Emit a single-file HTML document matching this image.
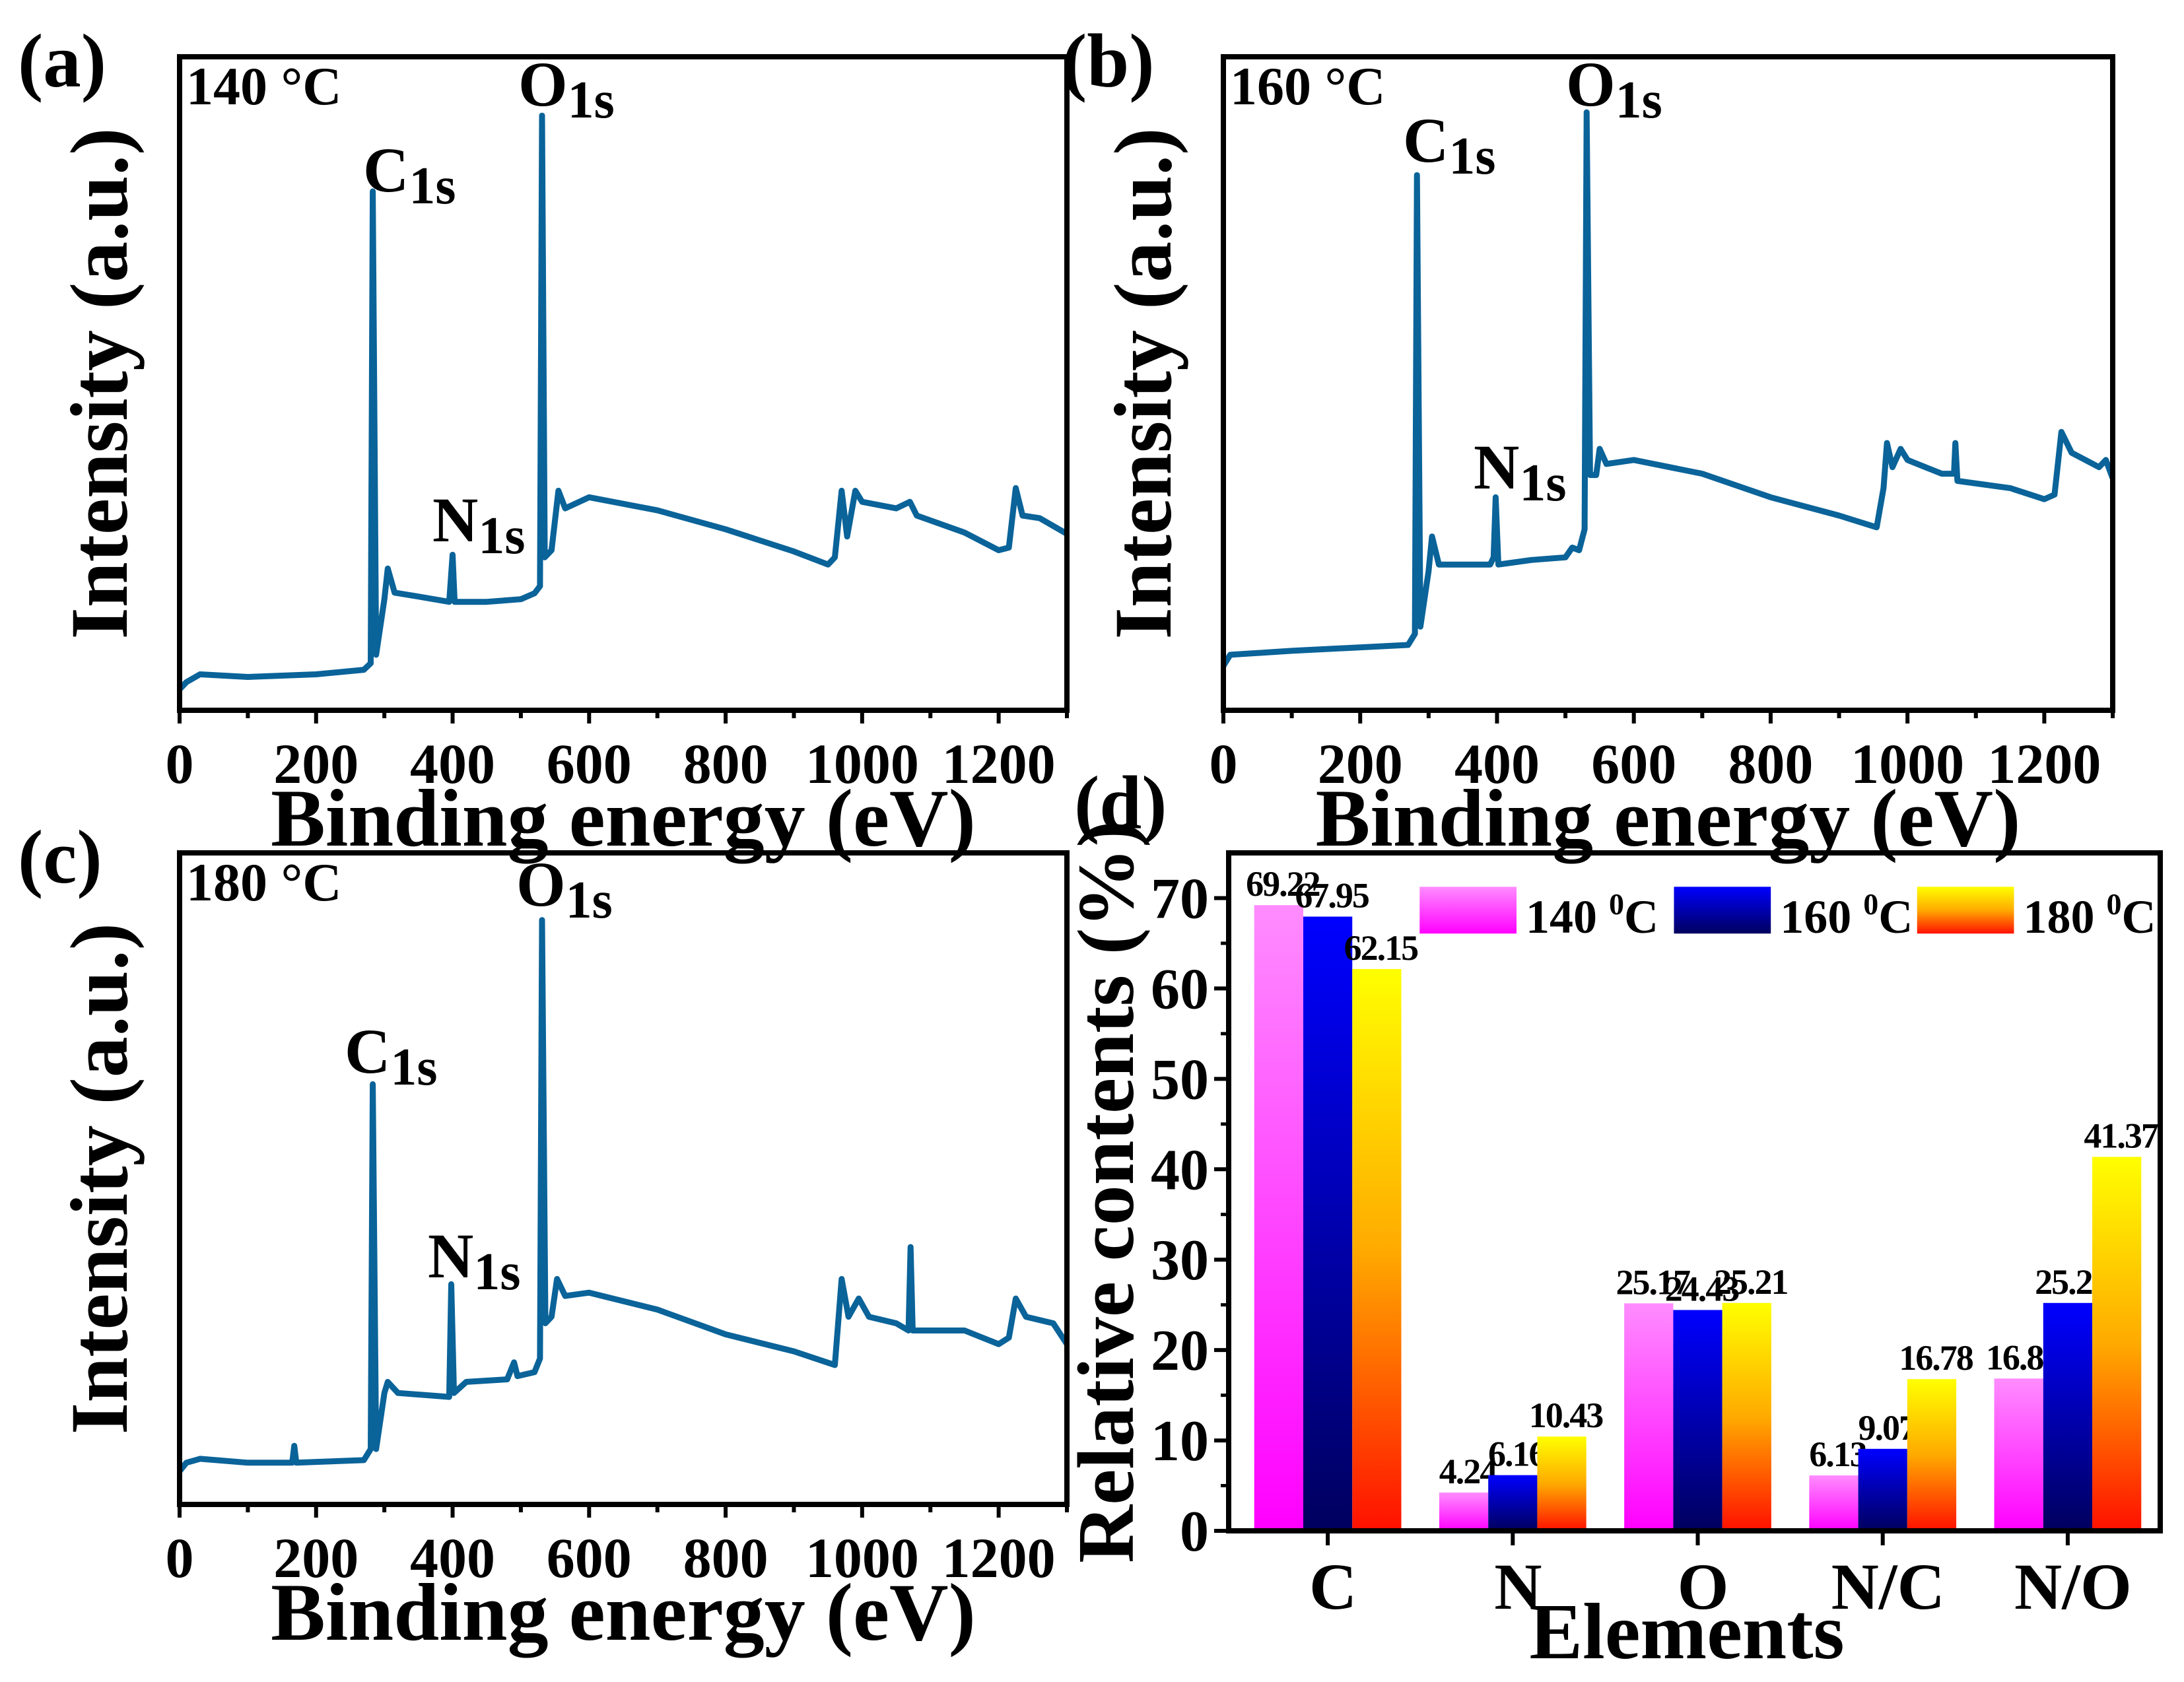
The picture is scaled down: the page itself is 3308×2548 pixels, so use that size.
<!DOCTYPE html>
<html><head><meta charset="utf-8"><style>
html,body{margin:0;padding:0;background:#fff}
svg{display:block}
text{font-family:"Liberation Serif",serif;font-weight:bold;fill:#000}
</style></head><body>
<svg id="fig" width="3308" height="2548" viewBox="0 0 3308 2548" xmlns="http://www.w3.org/2000/svg">
<defs>
<linearGradient id="g140" x1="0" y1="0" x2="0" y2="1"><stop offset="0" stop-color="#ff8cff"/><stop offset="1" stop-color="#ff00ff"/></linearGradient>
<linearGradient id="g160" x1="0" y1="0" x2="0" y2="1"><stop offset="0" stop-color="#0000ff"/><stop offset="1" stop-color="#00005e"/></linearGradient>
<linearGradient id="g180" x1="0" y1="0" x2="0" y2="1"><stop offset="0" stop-color="#ffff00"/><stop offset="0.5" stop-color="#ffaa00"/><stop offset="1" stop-color="#ff1000"/></linearGradient>
</defs>
</svg>
<script>
// ---- spectra data (x: binding energy eV, y: relative intensity 0-100 of frame) ----
const specA_x = [0,10,30,100,200,270,280,283,288,300,305,315,350,395,400,403,450,500,520,528,531,535,545,555,565,600,700,800,900,950,960,970,978,990,1000,1050,1070,1080,1150,1200,1215,1225,1235,1260,1300];
const specA_y = [3.2,4.3,5.5,5.1,5.5,6.2,7.2,79.4,8.5,17,21.7,18,17.4,16.6,23.8,16.6,16.6,17,17.9,19,91,23.4,24.5,33.6,30.9,32.6,30.6,27.7,24.3,22.3,23.4,33.6,26.6,33.6,31.9,30.9,31.9,29.8,27.2,24.5,24.9,34,29.8,29.4,27];
const specB_x = [0,10,100,270,280,283,288,300,305,315,390,395,398,402,450,500,510,520,528,531,536,545,550,560,600,700,800,900,955,965,970,978,990,1000,1050,1068,1070,1073,1150,1200,1215,1225,1240,1280,1290,1300];
const specB_y = [6.8,8.5,9.1,10,11.7,81.9,12.8,21.3,26.6,22.3,22.3,23.4,32.6,22.3,23,23.4,24.9,24.5,27.7,91.5,36,36,40,37.7,38.3,36.2,32.6,29.8,28,34,40.9,37.2,40,38.3,36.2,36.2,40.9,35.1,34,32.3,33,42.6,39.4,37.2,38.3,35.5];
const specC_x = [0,10,30,100,165,168,171,270,280,283,288,300,305,320,395,398,402,420,480,490,495,520,528,531,536,545,553,565,600,700,800,900,960,970,980,995,1010,1050,1068,1071,1074,1150,1200,1215,1225,1240,1280,1300];
const specC_y = [5.1,6.4,7,6.4,6.4,9,6.4,6.8,8.5,64.5,8.5,17.1,18.8,17.1,16.5,33.8,17.1,18.8,19.2,21.8,19.7,20.3,22.4,89.7,27.8,28.8,34.6,32,32.5,29.9,26.1,23.5,21.4,34.6,28.8,31.6,28.8,27.8,26.7,39.5,26.7,26.7,24.6,25.6,31.6,28.8,27.8,24.6];
const xTicks = [0,200,400,600,800,1000,1200];
// ---- bar chart data ----
const categories = ["C","N","O","N/C","N/O"];
const series140 = [69.22,4.24,25.17,6.13,16.85];
const series160 = [67.95,6.16,24.43,9.07,25.21];
const series180 = [62.15,10.43,25.21,16.78,41.37];
const seriesNames = ["140 \u2070C","160 \u2070C","180 \u2070C"];
const yTicksD = [0,10,20,30,40,50,60,70];

const NS="http://www.w3.org/2000/svg";
const svg=document.getElementById('fig');
function mk(tag,attrs,parent){const e=document.createElementNS(NS,tag);for(const k in attrs)e.setAttribute(k,attrs[k]);(parent||svg).appendChild(e);return e;}
function txt(s,x,y,size,anchor,parent){const t=mk('text',{x:x,y:y,'font-size':size,'text-anchor':anchor||'start'},parent);t.textContent=s;return t;}

function spectrum(key,L,T,R,B,xs,ys,temp,labelPanel,peaks){
  const g=mk('g',{});
  
  
  const sx=v=>L+(v/1300)*(R-L), sy=v=>B-(v/100)*(B-T);
  let d='';xs.forEach((x,i)=>{d+=(i?'L':'M')+sx(x).toFixed(1)+','+sy(ys[i]).toFixed(1);});
  const p=mk('path',{d:d,fill:'none',stroke:'#0a6399','stroke-width':9,'stroke-linejoin':'round'},g);
  
  
  const f=mk('rect',{x:L,y:T,width:R-L,height:B-T,fill:'none',stroke:'#000','stroke-width':8},g);
  
  
  for(let v=0;v<=1300;v+=100){
    const major=v%200===0;
    mk('line',{x1:sx(v),x2:sx(v),y1:B,y2:B+(major?20:12),stroke:'#000','stroke-width':6},g);
  }
  xTicks.forEach(v=>{const t=txt(String(v),sx(v),B+110,86,'middle',g);
    
    });
  const xt=txt('Binding energy (eV)',(L+R)/2,B+205,124,'middle',g);
  
  
  const yt=mk('text',{x:0,y:0,'font-size':124,'text-anchor':'middle',transform:`translate(${L-80},${(T+B)/2}) rotate(-90)`},g);
  yt.textContent='Intensity (a.u.)';
  
  
  const tl=txt(temp,L+10,T+72,82,'start',g);
  
  
  const pl=txt(labelPanel,L-245,T+45,115,'start',g);
  
  
  peaks.forEach(pk=>{
    const t=mk('text',{x:pk[1],y:pk[2],'font-size':96},g);
    t.textContent=pk[0];
    const s=mk('tspan',{'font-size':80,dy:18},t);s.textContent='1s';
    
    
  });
}
spectrum('a',272,86,1616,1076,specA_x,specA_y,'140 \u00b0C','(a)',[['C',550,290],['N',655,820],['O',785,160]]);
spectrum('b',1853,86,3200,1076,specB_x,specB_y,'160 \u00b0C','(b)',[['C',2125,245],['N',2232,740],['O',2372,160]]);
spectrum('c',272,1292,1616,2279,specC_x,specC_y,'180 \u00b0C','(c)',[['C',522,1625],['N',648,1935],['O',782,1372]]);

// ---- panel d ----
(function(){
  const L=1861,R=3272,T=1292,B=2319,ymax=75;
  const g=mk('g',{});
  
  
  const sx=v=>L+10+((v-0.5)/5)*(R-L-10), sy=v=>B-(v/ymax)*(B-T);
  const bw=0.265;
  const grads=['url(#g140)','url(#g160)','url(#g180)'];
  [series140,series160,series180].forEach((ser,si)=>{
    ser.forEach((v,i)=>{
      const c=i+1+(si-1)*bw;
      const x0=sx(c-bw/2),x1=sx(c+bw/2);
      const r=mk('rect',{x:x0,y:sy(v),width:x1-x0,height:sy(0)-sy(v),fill:grads[si]},g);
      
      
      const t=txt(v.toFixed(2),(x0+x1)/2+6,sy(v)-14,54,'middle',g);
      t.setAttribute('letter-spacing','-2');
      
      
    });
  });
  const f=mk('rect',{x:L,y:T,width:R-L,height:B-T,fill:'none',stroke:'#000','stroke-width':8},g);
  
  
  yTicksD.forEach(v=>{
    mk('line',{x1:L-22,x2:L,y1:sy(v),y2:sy(v),stroke:'#000','stroke-width':6},g);
    const t=txt(String(v),L-30,sy(v)+30,88,'end',g);
    
    
  });
  for(let v=5;v<ymax;v+=10) mk('line',{x1:L-12,x2:L,y1:sy(v),y2:sy(v),stroke:'#000','stroke-width':5},g);
  categories.forEach((c,i)=>{
    mk('line',{x1:sx(i+1),x2:sx(i+1),y1:B,y2:B+22,stroke:'#000','stroke-width':6},g);
    const t=txt(c,sx(i+1)+8,B+118,100,'middle',g);
    
    
  });
  const xt=txt('Elements',2555,2512,121,'middle',g);
  
  
  const yt=mk('text',{x:0,y:0,'font-size':122,'text-anchor':'middle',transform:`translate(1716,${(T+B)/2}) rotate(-90)`},g);
  yt.textContent='Relative contents (%)';
  
  
  const pl=txt('(d)',1627,1255,115,'start',g);
  
  
  const lx=[0.205,0.478,0.739];
  seriesNames.forEach((n,i)=>{
    const x=L+lx[i]*(R-L);
    const r=mk('rect',{x:x,y:T+0.05*(B-T),width:0.104*(R-L),height:0.069*(B-T),fill:grads[i]},g);
    
    
    const t=mk('text',{x:x+0.104*(R-L)+14,y:T+0.118*(B-T),'font-size':72},g);
    t.textContent=n.slice(0,3)+' ';
    const s=mk('tspan',{'font-size':46,dy:-28},t);s.textContent='0';
    const s2=mk('tspan',{dy:28},t);s2.textContent='C';
    
    
  });
})();
</script>
</body></html>
